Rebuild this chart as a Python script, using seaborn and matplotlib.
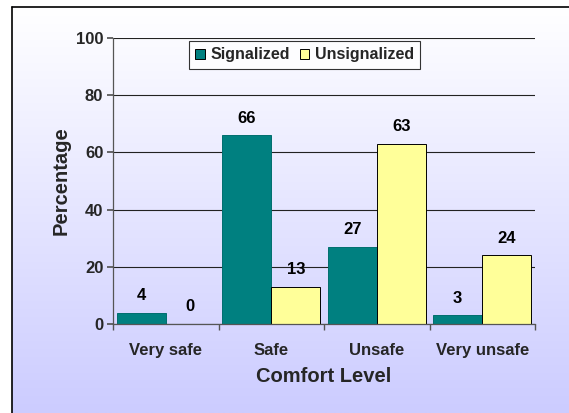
import numpy as np
import pandas as pd
import matplotlib
matplotlib.use("Agg")
import matplotlib.pyplot as plt
import seaborn as sns
from matplotlib.lines import Line2D
from matplotlib.ticker import FixedLocator

categories = ["Very safe", "Safe", "Unsafe", "Very unsafe"]
signalized = [4, 66, 27, 3]
unsignalized = [0, 13, 63, 24]
series_names = ["Signalized", "Unsignalized"]
y_ticks = [0, 20, 40, 60, 80, 100]

df = pd.DataFrame({
    "Comfort Level": categories * 2,
    "Percentage": signalized + unsignalized,
    "Series": [series_names[0]] * 4 + [series_names[1]] * 4,
})

sns.set_theme(style="white")
plt.rcParams["font.family"] = ["Liberation Sans", "DejaVu Sans"]
plt.rcParams["font.weight"] = "bold"

W, H = 569, 413
fig = plt.figure(figsize=(W / 100, H / 100), dpi=100)
fig.patch.set_facecolor("white")

# gradient frame background
bg = fig.add_axes([12 / W, 0, 1 - 12 / W, 1 - 7 / H])
grad = np.linspace(0, 1, 256)[:, None]
top = np.array([1.0, 1.0, 1.0])
bot = np.array([204, 204, 255]) / 255.0
img = top[None, None, :] * (1 - grad[:, :, None]) + bot[None, None, :] * grad[:, :, None]
bg.imshow(img, aspect="auto", extent=[0, 1, 0, 1])
bg.set_xlim(0, 1)
bg.set_ylim(0, 1)
bg.axis("off")
fig.add_artist(Line2D([12 / W, 12 / W], [0, 1 - 7 / H], color="black", lw=1.2, transform=fig.transFigure))
fig.add_artist(Line2D([12 / W, 1], [1 - 7 / H, 1 - 7 / H], color="black", lw=1.2, transform=fig.transFigure))

ax = fig.add_axes([113 / W, 1 - 324 / H, (535 - 113) / W, (324 - 38) / H])
ax.patch.set_alpha(0)

sns.barplot(data=df, x="Comfort Level", y="Percentage", hue="Series",
            palette=["#008080", "#FFFF99"], saturation=1, width=0.93, gap=0,
            edgecolor="black", linewidth=0.7, ax=ax, legend=True)

# Signalized bars have no dark outline in the reference
for bar in ax.containers[0]:
    bar.set_edgecolor("#006e6e")

for cont in ax.containers:
    ax.bar_label(cont, fmt="%d", padding=7, fontsize=12, fontweight="bold", color="black")

ax.set_ylim(0, 100)
ax.set_xlim(-0.5, 3.5)
ax.set_yticks(y_ticks)
ax.set_yticklabels([str(t) for t in y_ticks], fontsize=12, fontweight="bold")
ax.set_xticks(range(len(categories)))
ax.set_xticklabels(categories, fontsize=12, fontweight="bold")
ax.tick_params(axis="x", which="major", length=0, pad=14)
ax.xaxis.set_minor_locator(FixedLocator([-0.5, 0.5, 1.5, 2.5, 3.5]))
ax.tick_params(axis="x", which="minor", length=4, bottom=True, color="#555555")
ax.tick_params(axis="y", which="major", length=4, left=True, color="#555555", pad=3)
ax.yaxis.grid(True, color="#222222", lw=0.8)
ax.set_axisbelow(True)
for s in ["top", "right"]:
    ax.spines[s].set_visible(False)
for s in ["left", "bottom"]:
    ax.spines[s].set_color("#555555")
    ax.spines[s].set_linewidth(0.9)

ax.set_xlabel("Comfort Level", fontsize=14.5, fontweight="bold", labelpad=6)
ax.set_ylabel("Percentage", fontsize=14.5, fontweight="bold", labelpad=4)

leg = ax.legend(loc="upper center", bbox_to_anchor=(0.454, 0.99), ncol=2,
                frameon=True, fancybox=False, edgecolor="black",
                prop={"size": 11.5, "weight": "bold"},
                handlelength=0.6, handleheight=0.6, handletextpad=0.35,
                columnspacing=0.6, borderpad=0.4, borderaxespad=0, title=None)
leg.get_frame().set_linewidth(0.8)
leg.get_frame().set_facecolor("white")

fig.savefig("out.png", dpi=100)
